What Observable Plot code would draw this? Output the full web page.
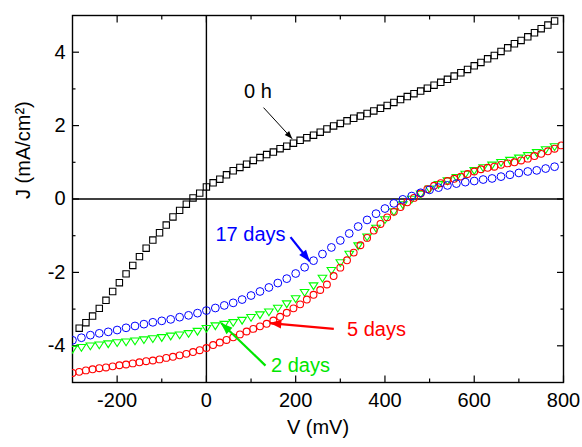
<!DOCTYPE html>
<html>
<head>
<meta charset="utf-8">
<script src="https://cdn.jsdelivr.net/npm/d3@7"></script>
<script src="https://cdn.jsdelivr.net/npm/@observablehq/plot@0.6"></script>
<style>
  html, body { margin: 0; padding: 0; background: #fff; }
  #chart { width: 582px; height: 447px; }
</style>
</head>
<body>
<div id="chart"></div>
<script>
// ---------- data ----------
// 0 h  (squares)
const v0h = [-285,-270,-255,-240,-225,-210,-195,-180,-165,-150,-135,-120,-105,-90,-75,-60,-45,-30,-15,
  0,15,30,45,60,75,90,105,120,135,150,165,180,195,210,225,240,255,270,285,300,315,330,345,360,375,390,
  405,420,435,450,465,480,495,510,525,540,555,570,585,600,615,630,645,660,675,690,705,720,735,750,765,780];
const j0h = [-3.52,-3.37,-3.19,-2.98,-2.76,-2.52,-2.28,-2.04,-1.81,-1.57,-1.34,-1.12,-0.92,-0.71,-0.49,-0.31,-0.14,0.03,0.16,
  0.33,0.44,0.54,0.66,0.77,0.86,0.95,1.05,1.13,1.21,1.28,1.37,1.44,1.52,1.60,1.67,1.74,1.82,1.91,1.99,2.06,2.13,2.20,2.26,2.33,2.40,2.47,
  2.55,2.63,2.71,2.79,2.87,2.94,3.02,3.10,3.18,3.26,3.35,3.44,3.53,3.63,3.72,3.82,3.91,4.02,4.12,4.23,4.32,4.42,4.53,4.64,4.74,4.85];

// 5 days (red circles)
const v5d = [-300,-285,-270,-255,-240,-225,-210,-195,-180,-165,-150,-135,-120,-105,-90,-75,-60,-45,-30,-15,
  0,15,30,45,60,75,90,105,120,135,150,165,180,195,210,225,240,255,270,285,300,315,330,345,360,375,390,
  405,420,435,450,465,480,495,510,525,540,555,570,585,600,615,630,645,660,675,690,705,720,735,750,765,780,795];
const j5d = [-4.74,-4.71,-4.67,-4.64,-4.61,-4.59,-4.56,-4.53,-4.51,-4.48,-4.45,-4.42,-4.40,-4.37,-4.33,-4.30,-4.26,-4.22,-4.17,-4.12,
  -4.06,-3.98,-3.91,-3.84,-3.77,-3.69,-3.61,-3.54,-3.47,-3.40,-3.31,-3.21,-3.10,-2.98,-2.87,-2.74,-2.61,-2.48,-2.33,-2.10,-1.87,-1.67,-1.46,-1.26,-1.06,-0.86,-0.68,
  -0.50,-0.35,-0.22,-0.09,0.03,0.15,0.27,0.36,0.43,0.49,0.55,0.61,0.68,0.75,0.81,0.85,0.88,0.93,0.97,1.00,1.05,1.10,1.17,1.23,1.30,1.37,1.46];

// 17 days (blue circles) and 2 days (green triangles)
const v20 = [-300,-280,-260,-240,-220,-200,-180,-160,-140,-120,-100,-80,-60,-40,-20,
  0,20,40,60,80,100,120,140,160,180,200,220,240,260,280,300,320,340,360,380,400,420,440,460,480,
  500,520,540,560,580,600,620,640,660,680,700,720,740,760,780];
const j17d = [-3.85,-3.78,-3.71,-3.66,-3.62,-3.57,-3.51,-3.46,-3.41,-3.36,-3.32,-3.28,-3.22,-3.17,-3.11,
  -3.04,-2.97,-2.90,-2.83,-2.74,-2.63,-2.52,-2.41,-2.29,-2.17,-2.03,-1.86,-1.68,-1.50,-1.32,-1.13,-0.94,-0.75,-0.57,-0.40,-0.26,-0.12,-0.01,0.08,0.17,
  0.25,0.31,0.37,0.42,0.46,0.49,0.53,0.56,0.61,0.66,0.71,0.75,0.78,0.83,0.88];
const j2d = [-4.10,-4.05,-4.01,-3.98,-3.95,-3.92,-3.90,-3.87,-3.84,-3.81,-3.78,-3.74,-3.71,-3.67,-3.61,
  -3.53,-3.46,-3.42,-3.37,-3.31,-3.23,-3.16,-3.08,-2.98,-2.86,-2.72,-2.55,-2.37,-2.16,-1.95,-1.74,-1.51,-1.28,-1.04,-0.80,-0.57,-0.35,-0.16,-0.01,0.13,
  0.27,0.39,0.49,0.58,0.67,0.77,0.85,0.92,0.99,1.05,1.11,1.18,1.26,1.34,1.42];

// axes
const xDomain = [-300, 800];
const yDomain = [-5, 5];
const xMajor = [-200, 0, 200, 400, 600, 800];
const xMinor = [-100, 100, 300, 500, 700];
const yMajor = [-4, -2, 0, 2, 4];
const yMinor = [-3, -1, 1, 3];
const xTitle = "V (mV)";
const yTitle = "J (mA/cm²)";

// annotations: label text, label centre (V, J), arrow tail and head (V, J), colour
const annLabels = ["0 h", "17 days", "5 days", "2 days"];
const annV = [115.6, 98.8, 381.1, 210.8];
const annJ = [2.94, -0.97, -3.57, -4.55];
const arrV1 = [128, 188.4, 285.4, 132.4];
const arrJ1 = [2.49, -1.04, -3.54, -4.54];
const arrV2 = [192.2, 231.6, 142, 33.1];
const arrJ2 = [1.64, -1.70, -3.38, -3.38];
const annColors = ["#000000", "#0000ff", "#ff0000", "#00e600"];
const annWidths = [1, 2.2, 2.2, 2.2];

// ---------- build ----------
const W = 582, H = 447, ML = 72, MR = 19, MT = 15, MB = 65;
const sx = Plot.scale({x: {domain: xDomain, range: [ML, W - MR]}});
const sy = Plot.scale({y: {domain: yDomain, range: [H - MB, MT]}});

const rows = (v, j) => v.map((x, i) => ({v: x, j: j[i]}));
const d0h = rows(v0h, j0h), d5d = rows(v5d, j5d), d17d = rows(v20, j17d), d2d = rows(v20, j2d);
const ann = annLabels.map((t, i) => {
  const ang = Math.atan2(sy.apply(arrJ2[i]) - sy.apply(arrJ1[i]), sx.apply(arrV2[i]) - sx.apply(arrV1[i])) * 180 / Math.PI;
  return {t, v: annV[i], j: annJ[i], v1: arrV1[i], j1: arrJ1[i], v2: arrV2[i], j2: arrJ2[i], c: annColors[i], w: annWidths[i], ang, thin: i === 0};
});

const triangleDown = {
  draw(ctx, size) {
    const r = Math.sqrt(size / Math.PI);
    ctx.moveTo(-r, -0.72 * r);
    ctx.lineTo(r, -0.72 * r);
    ctx.lineTo(0, 0.85 * r);
    ctx.closePath();
  }
};
// filled arrow head, tip at the origin, pointing along +x (rotated per arrow)
const arrowHead = {
  draw(ctx, size) {
    const r = Math.sqrt(size / Math.PI);
    ctx.moveTo(0, 0);
    ctx.lineTo(-2.5 * r, -0.95 * r);
    ctx.lineTo(-2.5 * r, 0.95 * r);
    ctx.closePath();
  }
};

const font = '"Liberation Sans", Arial, Helvetica, sans-serif';
const fs = 20;
const noText = () => "";

const chart = Plot.plot({
  width: W,
  height: H,
  marginLeft: ML,
  marginRight: MR,
  marginTop: MT,
  marginBottom: MB,
  style: {fontFamily: font, fontSize: fs + "px", color: "black", background: "white", overflow: "visible"},
  x: {domain: xDomain},
  y: {domain: yDomain},
  marks: [
    // axis labels (tick numbers)
    Plot.axisX({ticks: xMajor, anchor: "bottom", tickSize: 0, tickPadding: 10, tickFormat: d => String(d), fontSize: fs, label: null}),
    Plot.axisY({ticks: yMajor, anchor: "left", tickSize: 0, tickPadding: 7, tickFormat: d => String(d), fontSize: fs, label: null}),
    // inward ticks on all four sides
    Plot.axisX({ticks: xMajor, anchor: "bottom", tickSize: -6.5, tickFormat: noText, fill: "none", label: null, strokeWidth: 1.2}),
    Plot.axisX({ticks: xMinor, anchor: "bottom", tickSize: -3.5, tickFormat: noText, fill: "none", label: null, strokeWidth: 1.2}),
    Plot.axisX({ticks: xMajor, anchor: "top", tickSize: -6.5, tickFormat: noText, fill: "none", label: null, strokeWidth: 1.2}),
    Plot.axisX({ticks: xMinor, anchor: "top", tickSize: -3.5, tickFormat: noText, fill: "none", label: null, strokeWidth: 1.2}),
    Plot.axisY({ticks: yMajor, anchor: "left", tickSize: -7, tickFormat: noText, fill: "none", label: null, strokeWidth: 1.2}),
    Plot.axisY({ticks: yMinor, anchor: "left", tickSize: -3.5, tickFormat: noText, fill: "none", label: null, strokeWidth: 1.2}),
    Plot.axisY({ticks: yMajor, anchor: "right", tickSize: -7, tickFormat: noText, fill: "none", label: null, strokeWidth: 1.2}),
    Plot.axisY({ticks: yMinor, anchor: "right", tickSize: -3.5, tickFormat: noText, fill: "none", label: null, strokeWidth: 1.2}),
    // zero lines and frame
    Plot.ruleX([0], {stroke: "black", strokeWidth: 1.4}),
    Plot.ruleY([0], {stroke: "black", strokeWidth: 1.4}),
    Plot.frame({stroke: "black", strokeWidth: 1.4}),
    // series
    Plot.dot(d0h, {x: "v", y: "j", symbol: "square", r: 3.6, stroke: "black", fill: "none", strokeWidth: 1.1, clip: true}),
    Plot.dot(d2d, {x: "v", y: "j", symbol: triangleDown, r: 4.3, stroke: "#00ff00", fill: "none", strokeWidth: 1.1, clip: true}),
    Plot.dot(d5d, {x: "v", y: "j", symbol: "circle", r: 3.4, stroke: "#ff0000", fill: "none", strokeWidth: 1.1, clip: true}),
    Plot.dot(d17d, {x: "v", y: "j", symbol: "circle", r: 3.9, stroke: "#0000ff", fill: "none", strokeWidth: 1.0, clip: true}),
    // annotations: shaft + filled head
    Plot.link(ann, {x1: "v1", y1: "j1", x2: "v2", y2: "j2", stroke: "c", strokeWidth: "w"}),
    Plot.dot(ann.filter(d => d.thin), {x: "v2", y: "j2", symbol: arrowHead, r: 3.1, rotate: "ang", fill: "c", stroke: "none"}),
    Plot.dot(ann.filter(d => !d.thin), {x: "v2", y: "j2", symbol: arrowHead, r: 4.6, rotate: "ang", fill: "c", stroke: "none"}),
    Plot.text(ann, {x: "v", y: "j", text: "t", fill: "c", fontSize: fs, textAnchor: "middle"}),
    // axis titles
    Plot.text([xTitle], {frameAnchor: "bottom", dy: 51, fontSize: fs, fill: "black"}),
    Plot.text([yTitle], {frameAnchor: "left", dx: -49, rotate: -90, fontSize: fs, fill: "black"})
  ]
});

// remove the empty tick-text placeholders
d3.select(chart).selectAll("text").filter(function() { return this.textContent === ""; }).remove();
d3.select(chart).selectAll("g").filter(function() { return this.childNodes.length === 0; }).remove();
document.getElementById("chart").appendChild(chart);
</script>
</body>
</html>
